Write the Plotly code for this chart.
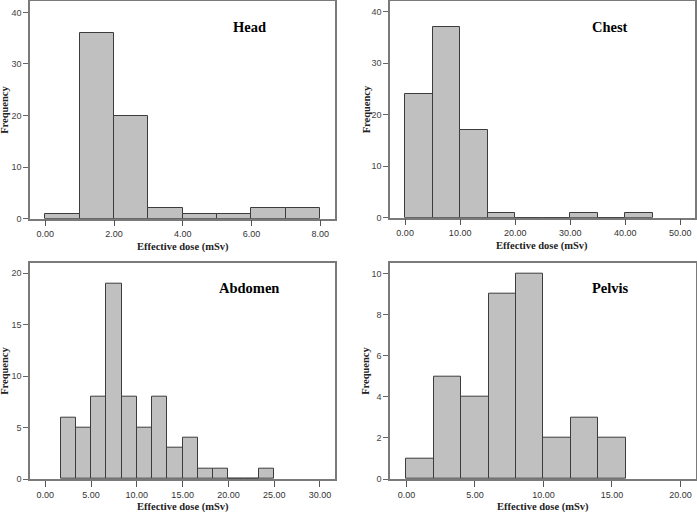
import plotly.graph_objects as go

# ---- data ----
head_starts = [0, 1, 2, 3, 4, 5, 6, 7]
head_width = 1.0
head_counts = [1, 36, 20, 2, 1, 1, 2, 2]

chest_starts = [0, 5, 10, 15, 20, 25, 30, 35, 40]
chest_width = 5.0
chest_counts = [24, 37, 17, 1, 0, 0, 1, 0, 1]

abd_width = 5.0 / 3.0
abd_starts = [abd_width * k for k in range(1, 15)]
abd_counts = [6, 5, 8, 19, 8, 5, 8, 3, 4, 1, 1, 0, 0, 1]

pelvis_starts = [0, 2, 4, 6, 8, 10, 12, 14]
pelvis_width = 2.0
pelvis_counts = [1, 5, 4, 9, 10, 2, 3, 2]

head_xticks = [0, 2, 4, 6, 8]
chest_xticks = [0, 10, 20, 30, 40, 50]
abd_xticks = [0, 5, 10, 15, 20, 25, 30]
pelvis_xticks = [0, 5, 10, 15, 20]

head_yticks = [0, 10, 20, 30, 40]
chest_yticks = [0, 10, 20, 30, 40]
abd_yticks = [0, 5, 10, 15, 20]
pelvis_yticks = [0, 2, 4, 6, 8, 10]

titles = ["Head", "Chest", "Abdomen", "Pelvis"]
x_title = "Effective dose (mSv)"
y_title = "Frequency"

# ---- layout geometry ----
W, H = 697, 512
panels = [
    # starts, width, counts, xticks, yticks, xrange, yrange, px(l,r), py(top,bottom)
    (head_starts, head_width, head_counts, head_xticks, head_yticks, [-0.445, 8.43], [0, 42.2], (30, 335), (1, 218.7)),
    (chest_starts, chest_width, chest_counts, chest_xticks, chest_yticks, [-2.75, 52.6], [0, 42.1], (390, 694.5), (1, 217.7)),
    (abd_starts, abd_width, abd_counts, abd_xticks, abd_yticks, [-1.67, 31.64], [0, 21.03], (30, 335), (262.7, 479)),
    (pelvis_starts, pelvis_width, pelvis_counts, pelvis_xticks, pelvis_yticks, [-1.2, 21.1], [0, 10.52], (390, 695.5), (262.7, 479)),
]

fig = go.Figure()
layout = dict(
    width=W, height=H, margin=dict(l=0, r=0, t=0, b=0, autoexpand=False),
    paper_bgcolor="white", plot_bgcolor="white", showlegend=False,
    bargap=0,
)
annotations = []
serif = "Liberation Serif, Times New Roman, serif"
sans = "Liberation Sans, Arial, sans-serif"
frame_col = "#7a7a7a"

for i, (starts, w, counts, xt, yt, xr, yr, (pl, pr), (pt, pb)) in enumerate(panels):
    idx = "" if i == 0 else str(i + 1)
    xa, ya = "x" + idx, "y" + idx
    centers = [s + w / 2 for s in starts]
    fig.add_trace(go.Bar(
        x=centers, y=counts, width=[w] * len(counts),
        marker=dict(color="#c0c0c0", line=dict(color="#3c3c3c", width=1)),
        xaxis=xa, yaxis=ya, hoverinfo="x+y",
    ))
    layout["xaxis" + idx] = dict(
        domain=[pl / W, pr / W], range=xr, anchor=ya, automargin=False,
        tickvals=xt, ticktext=[f"{v:.2f}" for v in xt],
        ticks="outside", ticklen=6, tickcolor="#555", tickwidth=1,
        tickfont=dict(family=sans, size=9, color="#333"),
        showline=True, linecolor=frame_col, linewidth=1.5, mirror=True,
        showgrid=False, zeroline=False, fixedrange=True,
    )
    layout["yaxis" + idx] = dict(
        domain=[(H - pb) / H, (H - pt) / H], range=yr, anchor=xa, automargin=False,
        tickvals=yt, ticks="outside", ticklen=5, tickcolor="#666", tickwidth=1,
        tickfont=dict(family=sans, size=9, color="#444"),
        showline=True, linecolor=frame_col, linewidth=1.5, mirror=True,
        showgrid=False, zeroline=False, fixedrange=True,
    )
    # panel title
    tx = 249 if pl < 200 else 610
    ty = 27 if pt < 100 else 288
    annotations.append(dict(
        text="<b>%s</b>" % titles[i], x=tx / W, y=1 - ty / H, xref="paper", yref="paper",
        showarrow=False, xanchor="center", yanchor="middle",
        font=dict(family=serif, size=14.5, color="black"),
    ))
    # x-axis title
    annotations.append(dict(
        text="<b>%s</b>" % x_title, x=(pl + pr) / 2 / W, y=1 - (pb + 28) / H,
        xref="paper", yref="paper", showarrow=False, xanchor="center", yanchor="middle",
        font=dict(family=serif, size=10.5, color="#222"),
    ))
    # y-axis title
    yx = 5 if pl < 200 else 366
    annotations.append(dict(
        text="<b>%s</b>" % y_title, x=yx / W, y=1 - (pt + pb) / 2 / H,
        xref="paper", yref="paper", showarrow=False, xanchor="center", yanchor="middle",
        textangle=-90, font=dict(family=serif, size=10.5, color="#222"),
    ))

layout["annotations"] = annotations
fig.update_layout(**layout)
fig.write_html(
    "out.html",
    config={"displayModeBar": False},
    post_script="document.body.style.margin='0px';document.body.style.overflow='hidden';",
)
